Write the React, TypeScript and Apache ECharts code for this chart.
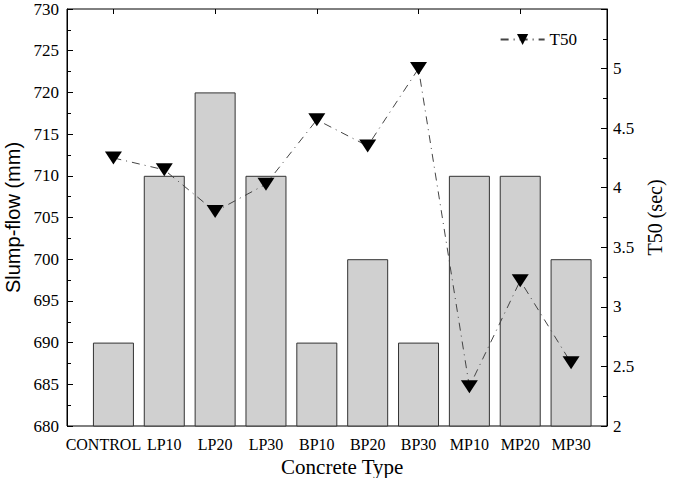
import React, { useEffect, useRef } from "react";
import * as echarts from "echarts";

const categories = ["CONTROL", "LP10", "LP20", "LP30", "BP10", "BP20", "BP30", "MP10", "MP20", "MP30"];
const slumpFlow = [690, 710, 720, 710, 690, 700, 690, 710, 710, 700];
const t50 = [4.25, 4.15, 3.8, 4.03, 4.57, 4.35, 5.0, 2.33, 3.22, 2.53];

const FONT = "Liberation Serif";

export default function App() {
  const ref = useRef<HTMLDivElement>(null);
  useEffect(() => {
    document.body.style.margin = "0";
    const chart = echarts.init(ref.current!, null, { renderer: "svg" });
    const labelStyle = { fontFamily: FONT, fontSize: 17, color: "#000" };
    const xLabelStyle = { fontFamily: FONT, fontSize: 16, color: "#000" };
    const nameStyle = { fontFamily: FONT, fontSize: 21, color: "#000" };
    chart.setOption({
      animation: false,
      backgroundColor: "#fff",
      grid: [
        { left: 67, right: 67, top: 9, bottom: 52, show: true, borderColor: "#000", borderWidth: 1, backgroundColor: "transparent", containLabel: false, outerBoundsMode: "none" },
        { left: 88, right: 77.5, top: 9, bottom: 52, containLabel: false, outerBoundsMode: "none" },
      ],
      legend: {
        data: ["T50"],
        right: 92,
        top: 26,
        itemWidth: 44,
        itemHeight: 14,
        textStyle: { ...labelStyle, fontSize: 17 },
      },
      xAxis: [
        {
          type: "category",
          gridIndex: 1,
          data: categories,
          position: "bottom",
          axisLine: { show: false },
          axisTick: { show: true, inside: true, alignWithLabel: true, length: 5, lineStyle: { color: "#000" } },
          axisLabel: {
            ...xLabelStyle,
            margin: 10,
            interval: 0,
            formatter: (v: string) => (v === "CONTROL" ? "{c|" + v + "}" : v),
            rich: { c: { ...xLabelStyle, padding: [0, 20, 0, 0] } },
          },
          name: "Concrete Type",
          nameLocation: "middle",
          nameGap: 27,
          nameTextStyle: nameStyle,
        },
        {
          type: "category",
          gridIndex: 1,
          data: categories,
          position: "top",
          axisLine: { show: false },
          axisTick: { show: true, inside: true, alignWithLabel: true, length: 5, lineStyle: { color: "#000" } },
          axisLabel: { show: false },
        },
        { type: "value", gridIndex: 0, show: false, min: 0, max: 1 },
      ],
      yAxis: [
        {
          type: "value",
          gridIndex: 0,
          position: "left",
          min: 680,
          max: 730,
          interval: 5,
          axisLine: { show: true, lineStyle: { color: "#000" } },
          axisTick: { show: true, inside: true, length: 6, lineStyle: { color: "#000" } },
          minorTick: { show: true, splitNumber: 2, length: 4, lineStyle: { color: "#000" } },
          splitLine: { show: false },
          axisLabel: { ...labelStyle, margin: 8 },
          name: "Slump-flow (mm)",
          nameLocation: "middle",
          nameGap: 42,
          nameTextStyle: { fontFamily: "Liberation Sans", fontSize: 20, color: "#000" },
        },
        {
          type: "value",
          gridIndex: 0,
          position: "right",
          min: 2,
          max: 5.5,
          interval: 0.5,
          axisLine: { show: true, lineStyle: { color: "#000" } },
          axisTick: { show: true, inside: true, length: 6, lineStyle: { color: "#000" } },
          minorTick: { show: true, splitNumber: 2, length: 4, lineStyle: { color: "#000" } },
          splitLine: { show: false },
          axisLabel: { ...labelStyle, margin: 6, formatter: (v: number) => (v >= 5.5 ? "" : String(v)) },
          name: "T50 (sec)",
          nameLocation: "middle",
          nameGap: 38,
          nameRotate: 90,
          nameTextStyle: { ...nameStyle, fontSize: 20 },
        },
        { type: "value", gridIndex: 1, show: false, min: 680, max: 730 },
        { type: "value", gridIndex: 1, show: false, min: 2, max: 5.5 },
      ],
      series: [
        {
          name: "Slump-flow",
          type: "bar",
          xAxisIndex: 0,
          yAxisIndex: 2,
          data: slumpFlow,
          barWidth: 41,
          itemStyle: { color: "#d0d0d0", borderColor: "#333", borderWidth: 1 },
        },
        {
          name: "T50",
          type: "line",
          xAxisIndex: 0,
          yAxisIndex: 3,
          data: t50,
          symbol: "triangle",
          symbolRotate: 180,
          symbolSize: [17, 13],
          itemStyle: { color: "#000" },
          lineStyle: { color: "#444", width: 1, type: [8, 5, 1, 5] },
          z: 5,
        },
      ],
    });
    return () => chart.dispose();
  }, []);
  return <div ref={ref} style={{ width: 674, height: 478 }} />;
}
